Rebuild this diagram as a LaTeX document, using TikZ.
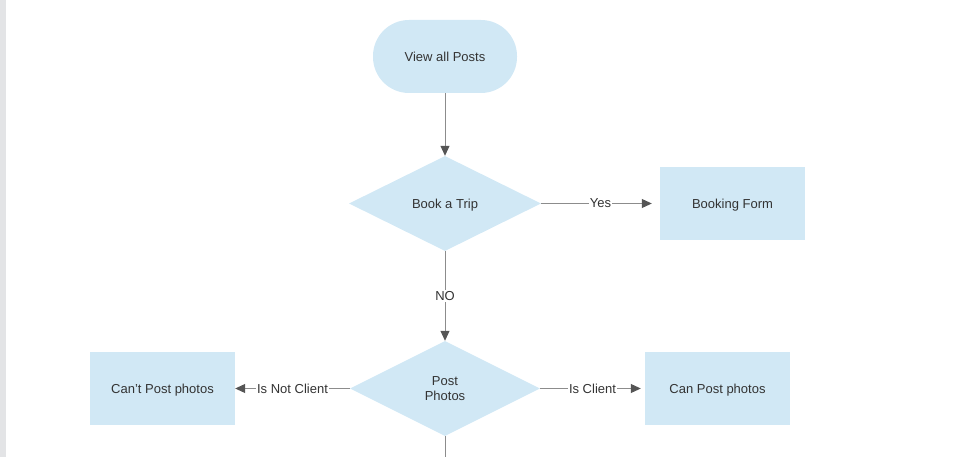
\documentclass[tikz,border=0pt]{standalone}
\usepackage{fontspec}
\setmainfont{Liberation Sans}
\usetikzlibrary{shapes.geometric, arrows.meta}
\definecolor{boxfill}{HTML}{D1E8F5}
\definecolor{textgray}{HTML}{333333}
\definecolor{linegray}{HTML}{8C8C8C}
\definecolor{tipgray}{HTML}{555555}
\definecolor{sidebar}{HTML}{E3E4E6}
\tikzset{
  base/.style={fill=boxfill, text=textgray, font=\fontsize{13}{15}\selectfont, inner sep=0pt, text depth=0pt},
  startbox/.style={base, minimum width=144pt, minimum height=73pt, rounded corners=36pt},
  actionbox/.style={base, minimum width=145pt, minimum height=73pt},
  choice/.style={base, diamond, minimum width=192pt, minimum height=95pt, align=center},
  edge/.style={draw=linegray, line width=1pt, -{Triangle[length=10pt,width=9pt,color=tipgray]}},
  edgelabel/.style={fill=white, text=textgray, font=\fontsize{13}{15}\selectfont, inner sep=1pt, text depth=0pt}
}
\begin{document}
\begin{tikzpicture}[x=1pt, y=-1pt]
    \useasboundingbox (0,0) rectangle (954,457);
    % Barra lateral
    \fill[sidebar] (0,0) rectangle (6,457);

    % Nodos
    \node[startbox] (view) at (445,56.5) {View all Posts};
    \node[choice] (trip) at (445,203.5) {Book a Trip};
    \node[actionbox] (form) at (732.5,203.5) {Booking Form};
    \node[choice, minimum width=190pt] (photos) at (445,388.5) {Post\\Photos};
    \node[actionbox] (cant) at (162.5,388.5) {Can't Post photos};
    \node[actionbox] (can) at (717.5,388.5) {Can Post photos};
    \coordinate (bottom) at (445,457);

    % Conectores
    \draw[edge] (view) -- (trip);
    \draw[edge, shorten >=8pt] (trip.east) -- node[edgelabel] {Yes} (form.west);
    \draw[edge] (trip.south) -- node[edgelabel] {NO} (photos.north);
    \draw[edge] (photos.west) -- node[edgelabel] {Is Not Client} (cant.east);
    \draw[edge, shorten >=4pt] (photos.east) -- node[edgelabel] {Is Client} (can.west);
    \draw[draw=linegray, line width=1pt] (photos.south) -- (bottom);
\end{tikzpicture}
\end{document}
